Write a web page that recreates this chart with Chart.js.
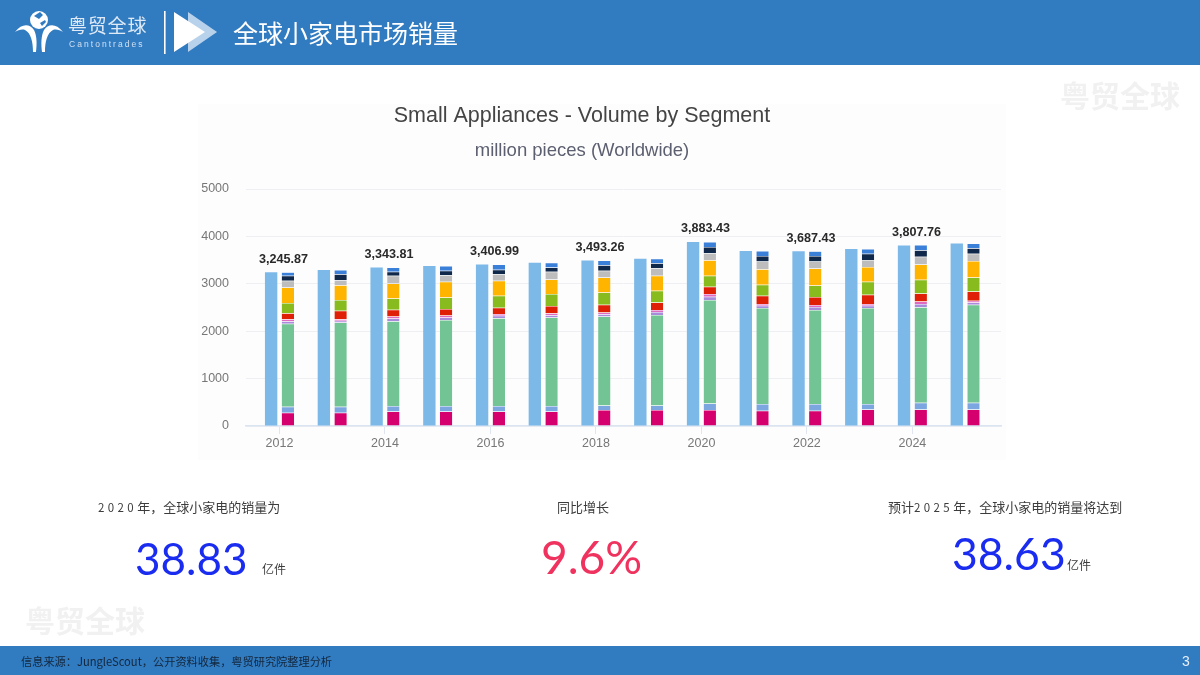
<!DOCTYPE html>
<html lang="zh">
<head>
<meta charset="utf-8">
<title>全球小家电市场销量</title>
<script src="https://cdn.jsdelivr.net/npm/chart.js@4"></script>
<style>
html,body{margin:0;padding:0;background:#fff;width:1200px;height:675px;overflow:hidden}
body{position:relative;font-family:"Noto Sans CJK SC","Noto Sans",sans-serif}
.t{position:absolute;white-space:nowrap;transform:translateY(-50%);line-height:1.2;filter:blur(.35px)}
.band{position:absolute;left:0;width:1200px;background:#317bc0}
#panel{position:absolute;left:198px;top:104px;width:808px;height:356px;background:#fdfdfd}
canvas{position:absolute;left:0;top:0;filter:blur(.45px)}
.wm{color:#f1f1f1;font-size:30px;font-weight:700}
.lab{color:#3c3c3c;font-size:13px}
.sp{font-size:11.5px;letter-spacing:3.4px}
.num{font-family:Lato,"Noto Sans",sans-serif;font-size:44px}
</style>
</head>
<body>
<div class="band" style="top:0;height:65px"></div>
<div class="band" style="top:646px;height:29px"></div>
<div id="panel"></div>
<svg style="position:absolute;left:0;top:0;filter:blur(.4px)" width="240" height="65">
  <circle cx="39" cy="20" r="9" fill="#fff"/>
  <path d="M34 16l6-4 3 3-4 4zM40 23l5-3 1 2-4 4z" fill="#317bc0"/>
  <path d="M15 32C22 23 30 24 34 30C37 36 37 44 36 52L33 52C33 42 31 33 25 30C22 29 18 30 15 32Z" fill="#fff"/>
  <path d="M63 32C56 23 48 24 44 30C41 36 41 44 42 52L45 52C45 42 47 33 53 30C56 29 60 30 63 32Z" fill="#fff"/>
  <rect x="164" y="11" width="1.6" height="43" fill="#fff"/>
  <polygon points="188,12 188,52 217,32" fill="#b9d2ec"/>
  <polygon points="174,12 174,52 205,32" fill="#fff"/>
</svg>
<div class="t" style="left:68px;top:25px;color:#dfeaf6;font-size:19px;letter-spacing:.8px">粤贸全球</div>
<div class="t" style="left:69px;top:44px;color:#cfe0f2;font-size:8.5px;letter-spacing:2.05px;font-family:'Liberation Sans'">Cantontrades</div>
<div class="t" style="left:233px;top:32px;color:#fff;font-size:25px">全球小家电市场销量</div>
<div class="t wm" style="left:1060px;top:94px">粤贸全球</div>
<div class="t wm" style="left:25px;top:619px">粤贸全球</div>

<canvas id="c" width="1200" height="675"></canvas>

<div class="t lab" style="left:98px;top:507px"><span class="sp">2020</span>年&#xFF0C;全球小家电的销量为</div>
<div class="t lab" style="left:557px;top:507px">同比增长</div>
<div class="t lab" style="left:888px;top:507px">预计<span class="sp">2025</span>年&#xFF0C;全球小家电的销量将达到</div>
<div class="t num" style="left:135px;top:558px;color:#1a2cf0">38.83</div>
<div class="t lab" style="left:262px;top:569px;font-size:12px">亿件</div>
<div class="t num" style="left:541px;top:557px;color:#f0325f;font-size:46px">9.6%</div>
<div class="t num" style="left:952px;top:553px;color:#1a2cf0;font-size:44.5px">38.63</div>
<div class="t lab" style="left:1067px;top:565px;font-size:12px">亿件</div>
<div class="t" style="left:21px;top:662px;color:#13263c;font-size:11.2px">信息来源&#xFF1A;JungleScout&#xFF0C;公开资料收集&#xFF0C;粤贸研究院整理分析</div>
<div class="t" style="left:1182px;top:661px;color:#e8f0f8;font-size:14px;font-family:'Liberation Sans'">3</div>

<script>
const years = [2012,2013,2014,2015,2016,2017,2018,2019,2020,2021,2022,2023,2024,2025];
const totals = [3245.87,3290,3343.81,3375,3406.99,3445,3493.26,3530,3883.43,3690,3687.43,3735,3807.76,3850];
const pink = [280,280,308,308,308,308,336,336,336,322,322,350,350,350];
const steel = [125,125,112,112,112,112,98,98,140,140,140,112,140,140];
const green = [1750,1777,1790,1818,1853,1867,1874,1909,2181,2028,1986,2028,2013,2069];
const lavender = [56,40,56,52,52,52,48,60,72,47,60,47,72,48];
const orchid = [42,30,42,39,39,39,36,45,54,36,44,36,54,36];
const red = [126,182,147,140,133,153,167,160,154,175,168,196,168,196];
const lime = [216,223,237,244,251,252,259,245,231,231,245,273,287,294];
const orange = [329,315,315,329,315,308,315,315,329,329,357,315,322,350];
const gray = [140,105,161,140,140,161,140,161,146,161,147,146,167,153];
const navy = [105,126,84,91,91,91,119,105,133,118,118,133,133,112];
const blue = [77,87,92,102,113,102,101,96,107,103,100,99,112,102];
const labelledYears = [2012,2014,2016,2018,2020,2022,2024];
const labelTexts = ["3,245.87","3,343.81","3,406.99","3,493.26","3,883.43","3,687.43","3,807.76"];
const yTicks = [0,1000,2000,3000,4000,5000];

const xy = arr => arr.map((v,i)=>({x:years[i],y:v}));
const seg = (arr,color,label) => ({label,data:xy(arr),backgroundColor:color,stack:'parts',
  borderColor:'rgba(255,255,255,.35)',borderWidth:{top:.5,bottom:.5}});

const totalLabels = {
  id:'totalLabels',
  afterDatasetsDraw(chart){
    const {ctx,scales:{x,y}} = chart;
    ctx.save();
    ctx.font = 'bold 12.6px "Liberation Sans"';
    ctx.fillStyle = '#2a2a2a';
    ctx.textAlign = 'center';
    ctx.textBaseline = 'middle';
    labelledYears.forEach((yr,i)=>{
      const tot = totals[years.indexOf(yr)];
      ctx.fillText(labelTexts[i], x.getPixelForValue(yr)+4, y.getPixelForValue(tot)-13);
    });
    ctx.restore();
  }
};

new Chart(document.getElementById('c'),{
  type:'bar',
  data:{datasets:[
    {label:'Total',data:xy(totals),backgroundColor:'#7cb9e8',stack:'total'},
    seg(pink,'#d5006d','Segment 1'),
    seg(steel,'#7ca6e0','Segment 2'),
    seg(green,'#72c494','Segment 3'),
    seg(lavender,'#a98bdc','Segment 4'),
    seg(orchid,'#e06ac0','Segment 5'),
    seg(red,'#e02006','Segment 6'),
    seg(lime,'#88bb1e','Segment 7'),
    seg(orange,'#ffb400','Segment 8'),
    seg(gray,'#bdbdbd','Segment 9'),
    seg(navy,'#10294a','Segment 10'),
    seg(blue,'#3a7fd8','Segment 11')
  ]},
  plugins:[totalLabels],
  options:{
    responsive:false,animation:false,
    layout:{padding:{left:163,right:199,top:103,bottom:219}},
    datasets:{bar:{categoryPercentage:.634,barPercentage:.74}},
    plugins:{
      legend:{display:false},tooltip:{enabled:false},
      title:{display:true,text:'Small Appliances - Volume by Segment',color:'#444',
        font:{family:'"Liberation Sans"',size:21.5,weight:'normal'},padding:{top:0,bottom:11}},
      subtitle:{display:true,text:'million pieces (Worldwide)',color:'#5c5f70',
        font:{family:'"Liberation Sans"',size:18.5,weight:'normal'},padding:{top:0,bottom:27}}
    },
    scales:{
      x:{type:'linear',stacked:true,offset:false,min:2011.365,max:2025.68,
        afterBuildTicks(s){s.ticks=labelledYears.map(v=>({value:v}));},
        afterFit(s){s.height=30;},
        grid:{offset:false,drawOnChartArea:false,drawTicks:true,tickLength:8,color:'#dfe6f0'},
        border:{color:'#dbe5f2',width:1.5},
        ticks:{color:'#777',font:{family:'"Liberation Sans"',size:12.5},padding:2,autoSkip:false,
          callback:v=>String(v)}},
      y:{stacked:true,min:0,max:5000,
        afterBuildTicks(s){s.ticks=yTicks.map(v=>({value:v}));},
        afterFit(s){s.width=83;},
        grid:{color:'#eeeff2',drawTicks:false,lineWidth:1},
        border:{display:false},
        ticks:{color:'#777',font:{family:'"Liberation Sans"',size:12.5},padding:17,
          callback:v=>String(v)}}
    }
  }
});
</script>
</body>
</html>
